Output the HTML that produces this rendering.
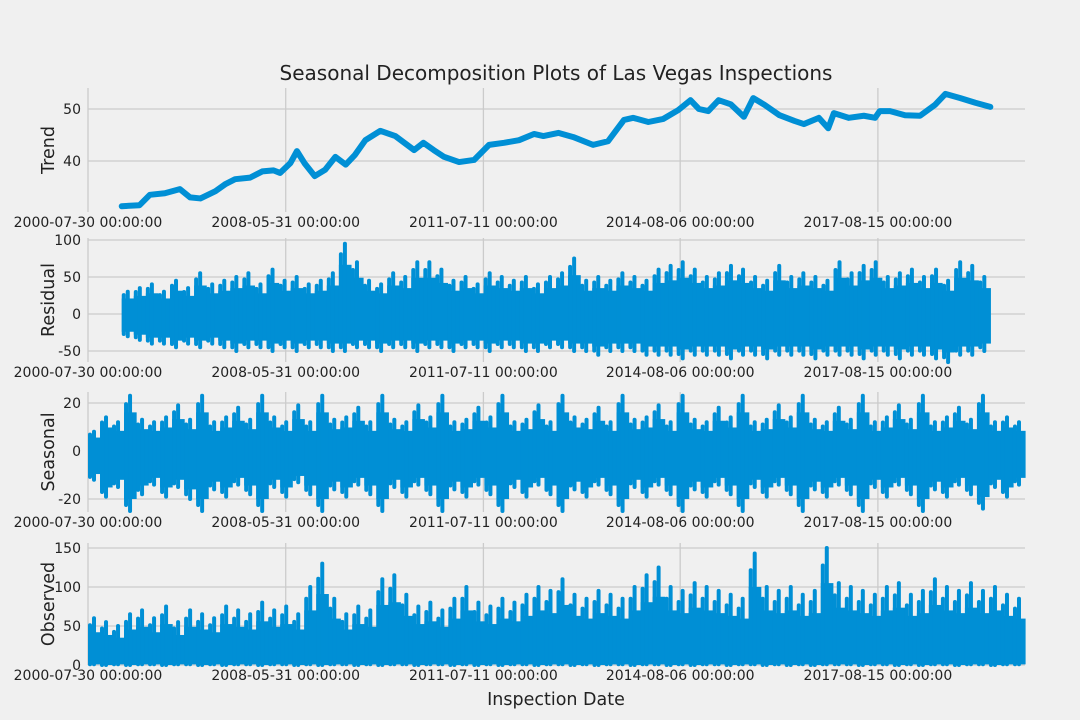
<!DOCTYPE html>
<html><head><meta charset="utf-8"><style>
body{margin:0;background:#f0f0f0;}
svg{display:block;font-family:"DejaVu Sans","Liberation Sans",sans-serif;}
</style></head><body>
<svg id="chart" width="1080" height="720" viewBox="0 0 1080 720" xmlns="http://www.w3.org/2000/svg">
<rect width="1080" height="720" fill="#f0f0f0"/>
</svg>
<script>
const xTickLabels = ["2000-07-30 00:00:00","2008-05-31 00:00:00","2011-07-11 00:00:00","2014-08-06 00:00:00","2017-08-15 00:00:00"];
const xTickPos = [0, 21.1, 42.2, 63.2, 84.3]; // index-units (0..100)
const trendX = [3.6,5.5,6.6,8.2,9.8,10.9,12,13.6,14.7,15.7,17.3,18.6,19.8,20.5,21.6,22.3,23.1,24.2,25.3,26.4,27.5,28.5,29.6,31.2,32.8,34.8,35.8,36.9,38,39.6,41.2,42.8,44.4,46,47.6,48.6,50.2,51.8,53.9,55.5,57.2,58.2,59.8,61.4,63,64.3,65.2,66.2,67.3,68.6,70,71,72.2,73.8,75.4,76.4,78,79,79.6,81.2,82.8,84,84.5,85.6,87.2,88.8,90.4,91.5,93.1,94.7,96.3];
const trendY = [31.3,31.5,33.5,33.8,34.6,33,32.8,34.2,35.6,36.5,36.8,38,38.2,37.7,39.6,41.9,39.6,37.1,38.3,40.8,39.3,41.2,44,45.8,44.8,42.1,43.5,42.1,40.8,39.8,40.2,43.1,43.5,44,45.2,44.8,45.4,44.6,43.1,43.8,47.9,48.3,47.5,48.1,49.8,51.7,50,49.6,51.7,50.9,48.5,52.1,50.8,48.8,47.7,47.1,48.3,46.3,49.2,48.3,48.7,48.3,49.6,49.6,48.8,48.7,50.8,52.9,52.1,51.2,50.4];
const resMax = [30,35,40,30,45,35,55,40,45,50,55,40,60,45,50,40,45,55,95,70,45,40,55,50,70,70,60,45,50,40,55,50,45,50,40,50,55,75,45,50,45,55,50,45,60,65,70,60,50,55,65,60,50,45,65,50,55,50,45,70,55,65,70,50,55,60,50,60,45,70,65,50];
const resMin = [-30,-35,-40,-40,-45,-40,-45,-40,-45,-50,-45,-45,-50,-45,-50,-45,-45,-50,-50,-45,-45,-50,-45,-45,-50,-45,-45,-50,-45,-45,-50,-45,-45,-50,-50,-45,-45,-50,-50,-55,-50,-50,-50,-55,-55,-55,-60,-55,-55,-55,-60,-55,-55,-60,-55,-55,-55,-60,-55,-55,-55,-60,-55,-55,-60,-55,-55,-60,-65,-55,-55,-50];
const seaMax = [8,14,12,23,13,12,14,19,13,23,12,14,18,13,23,14,12,19,12,23,13,14,18,12,23,13,12,19,14,23,12,13,18,14,23,12,13,19,12,23,14,13,18,12,23,13,14,19,12,23,13,12,18,14,23,12,13,19,14,23,13,12,18,13,23,12,14,19,13,23,12,14,18,13,23,12,14,12];
const seaMin = [-12,-19,-15,-25,-18,-14,-19,-15,-20,-25,-16,-19,-14,-18,-25,-15,-19,-13,-18,-25,-16,-19,-14,-18,-25,-15,-19,-14,-18,-25,-16,-19,-14,-18,-25,-15,-19,-14,-18,-25,-16,-19,-14,-18,-25,-15,-19,-14,-18,-25,-16,-19,-14,-18,-25,-15,-19,-14,-18,-25,-16,-19,-14,-18,-25,-15,-19,-14,-18,-25,-16,-19,-14,-18,-24,-15,-19,-14];
const obsMax = [60,55,50,65,70,60,75,55,70,65,60,75,70,65,80,70,75,65,100,130,85,65,75,70,110,115,90,75,80,70,85,100,80,75,85,80,90,100,95,110,90,85,95,90,85,100,115,125,100,95,105,100,95,90,85,143,100,95,100,90,95,150,105,100,95,90,100,105,90,95,110,100,95,105,95,100,90,85];
const obsMin = [1,0,1,0,1,1,0,1,1,0,1,0,1,1,0,1,1,0,1,0,1,1,0,1,0,1,1,0,1,1,0,1,0,1,0,1,1,0,1,1,0,1,0,1,1,0,1,1,0,1,0,1,1,0,1,1,0,1,0,1,0,1,1,1,0,1,1,0,1,0,1,1,0,1,1,0,1,1];

const svg = document.getElementById('chart');
const NS = 'http://www.w3.org/2000/svg';
const X0 = 88, X1 = 1025, BLUE = '#008fd5';
const xs = d => X0 + (d / 100) * (X1 - X0);
function mk(tag, attrs, parent){const e=document.createElementNS(NS,tag);for(const k in attrs)e.setAttribute(k,attrs[k]);(parent||svg).appendChild(e);return e;}

const panels = [
 {key:'trend', label:'Trend', top:88, bot:212, v0:40, y0:161, v1:50, y1:109, ticks:[40,50]},
 {key:'residual', label:'Residual', top:238, bot:362, v0:0, y0:314, v1:50, y1:277, ticks:[-50,0,50,100]},
 {key:'seasonal', label:'Seasonal', top:392, bot:512, v0:0, y0:451, v1:20, y1:403, ticks:[-20,0,20]},
 {key:'observed', label:'Observed', top:543, bot:665, v0:0, y0:665, v1:50, y1:626, ticks:[0,50,100,150]}
];

panels.forEach((p, pi) => {
  const ys = v => p.y0 + (v - p.v0) * (p.y1 - p.y0) / (p.v1 - p.v0);
  const g = mk('g', {});
  
  
  const bgTop = pi === 0 ? p.top : p.top - 8;
  const bg = mk('rect', {x:X0-60, y:bgTop, width:X1-X0+80, height:p.bot-bgTop, fill:'#f0f0f0'}, g);
  
  
  p.ticks.forEach(t => {
    const y = ys(t);
    const l = mk('line', {x1:X0, x2:X1, y1:y, y2:y, stroke:'#cbcbcb', 'stroke-width':1.3}, g);
    
    
    const tx = mk('text', {x:X0-7, y:y+5, 'font-size':14, 'text-anchor':'end', fill:'#222'}, g);
    tx.textContent = t;
    
    
  });
  xTickPos.forEach((d, i) => {
    const x = xs(d);
    const l = mk('line', {x1:x, x2:x, y1:p.top, y2:p.bot, stroke:'#cbcbcb', 'stroke-width':1.3}, g);
    
    
    const tx = mk('text', {x:x, y:p.bot+15, 'font-size':14, 'text-anchor':'middle', fill:'#222'}, g);
    tx.textContent = xTickLabels[i];
    
    
  });
  const yl = mk('text', {x:0, y:0, 'font-size':17.5, 'text-anchor':'middle', fill:'#222', transform:`translate(${X0-34},${(p.top+p.bot)/2}) rotate(-90)`}, g);
  yl.textContent = p.label;
  
  
  const xl = mk('text', {x:556, y:p.bot+40, 'font-size':17.5, 'text-anchor':'middle', fill:'#222'}, g);
  xl.textContent = 'Inspection Date';
  
  

  if (p.key === 'trend') {
    const pts = trendX.map((d, i) => xs(d) + ',' + ys(trendY[i])).join(' ');
    const pl = mk('polyline', {points:pts, fill:'none', stroke:BLUE, 'stroke-width':6, 'stroke-linejoin':'round', 'stroke-linecap':'round'}, g);
    
    
  } else {
    let mx, mn, d0, d1;
    if (p.key === 'residual') { mx = resMax; mn = resMin; d0 = 3.6; d1 = 96.3; }
    else if (p.key === 'seasonal') { mx = seaMax; mn = seaMin; d0 = 0; d1 = 100; }
    else { mx = obsMax; mn = obsMin; d0 = 0; d1 = 100; }
    const n = mx.length, w = (xs(d1) - xs(d0)) / n;
    const sg = mk('g', {}, g);
    
    
    for (let i = 0; i < n; i++) {
      const x = xs(d0) + w * (i + 0.5);
      const hi = mx[i], lo = mn[i] !== undefined ? mn[i] : mn[mn.length-1];
      const core = mk('rect', {x:x - w/2, y:ys(hi*0.7), width:w+0.6, height:Math.max(0, ys(lo*0.8) - ys(hi*0.7)), fill:BLUE}, sg);
      
      
      const sp = mk('line', {x1:x, x2:x, y1:ys(hi), y2:ys(lo), stroke:BLUE, 'stroke-width':4, 'stroke-linecap':'round'}, sg);
      
      
      const sp2 = mk('line', {x1:x - w/3, x2:x - w/3, y1:ys(hi*0.85), y2:ys(lo*0.9), stroke:BLUE, 'stroke-width':4, 'stroke-linecap':'round'}, sg);
      
      
    }
  }
});
const title = mk('text', {x:556, y:80, 'font-size':20, 'text-anchor':'middle', fill:'#222'});
title.textContent = 'Seasonal Decomposition Plots of Las Vegas Inspections';


</script>
</body></html>
